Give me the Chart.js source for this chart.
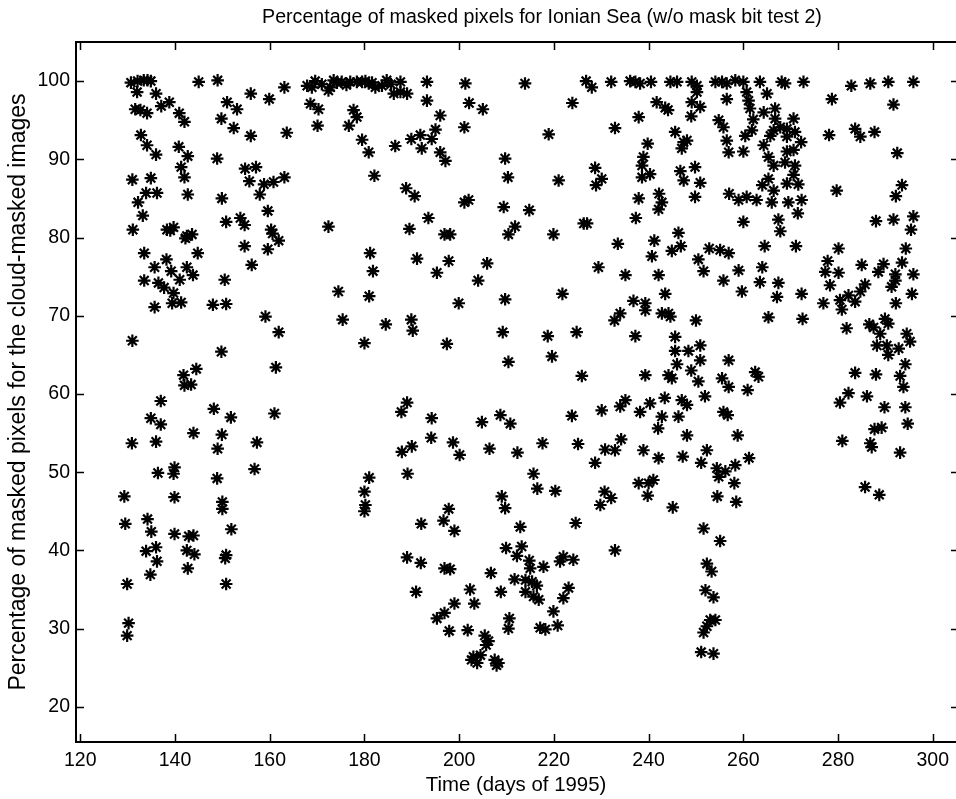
<!DOCTYPE html>
<html>
<head>
<meta charset="utf-8">
<script src="https://cdn.jsdelivr.net/npm/chart.js@4"></script>
<style>
html, body { margin: 0; padding: 0; background: #fff; }
</style>
</head>
<body>
<canvas id="maskChart" width="956" height="799"></canvas>
<script>
// texts
const chartTitle = 'Percentage of masked pixels for Ionian Sea (w/o mask bit test 2)';
const xTitle = 'Time (days of 1995)';
const yTitle = 'Percentage of masked pixels for the cloud-masked images';

// tick labels
const xTicks = [120, 140, 160, 180, 200, 220, 240, 260, 280, 300];
const yTicks = [20, 30, 40, 50, 60, 70, 80, 90, 100];

// [day, percent], split by period
const pts129_164 = [
  [130.7,99.8],[132.1,100.0],[133.4,100.1],[134.2,100.1],[134.9,100.0],[132.0,98.6],[136.0,98.4],
  [145.0,99.9],[149.0,100.1],[156.0,98.4],[159.9,97.7],[163.1,99.2],
  [151.0,97.3],[153.1,96.4],[149.8,95.2],[152.4,94.0],[156.0,93.0],[163.6,93.4],
  [131.6,96.4],[132.7,96.3],[134.1,95.9],[137.1,96.8],[138.8,97.3],[140.9,95.9],[142.0,94.8],
  [132.8,93.1],[134.1,91.8],[136.0,90.6],[140.8,91.6],[142.7,90.4],[148.9,90.1],
  [141.3,89.0],[142.0,87.7],[154.8,88.8],[157.1,89.0],[155.7,87.2],[158.8,86.8],[160.8,87.1],[163.1,87.7],
  [131.0,87.4],[134.9,87.6],[133.9,85.7],[136.2,85.7],[132.2,84.5],[142.7,85.5],[149.9,85.0],[157.9,85.5],
  [133.2,82.8],[159.6,83.4],[131.1,81.0],[150.8,82.0],[153.8,82.5],[154.7,81.6],[138.3,81.0],[139.7,81.3],
  [139.0,80.9],[142.2,79.9],[143.6,80.4],[142.5,80.2],[160.3,81.0],[160.6,80.5],[161.9,79.6],[159.6,78.5],
  [133.5,78.0],[138.2,77.2],[144.8,78.0],[135.7,76.2],[139.2,75.7],[142.5,76.2],[154.7,78.9],[156.2,76.5],
  [143.8,75.2],[150.5,74.6],[133.5,74.5],[136.5,74.2],[137.7,73.6],[139.7,72.9],[141.0,74.6],[135.7,71.1],
  [139.4,71.6],[141.3,71.7],[148.0,71.4],[150.8,71.5],[159.1,69.9],[161.9,67.9],[131.0,66.8],[149.8,65.4],
  [144.5,63.2],[141.8,62.4],[142.0,61.1],[143.4,61.2],[137.0,59.1],[134.9,56.9],[137.0,56.1],[148.2,58.1],
  [151.8,57.0],[143.9,55.0],[149.9,54.8],[130.9,53.7],[136.0,53.9],[149.0,53.0],[157.3,53.8],[161.0,57.5],
  [161.3,63.4],[156.8,50.4],[136.4,49.9],[139.9,50.6],[139.7,49.8],[148.9,49.2],[129.3,46.9],[139.9,46.8],
  [150.0,46.2],[150.0,45.3],
  [129.5,43.4],[134.2,44.0],[135.0,42.4],[136.0,40.4],[133.9,39.9],[136.2,38.6],[134.8,36.9],[129.9,35.7],
  [139.9,42.1],[142.9,41.8],[143.9,41.9],[142.5,40.0],[144.1,39.5],[142.7,37.7],[151.9,42.7],[150.8,39.4],
  [150.6,39.0],[150.8,35.7],[130.2,30.7],[129.9,29.1]
];

const pts167_211 = [
  [167.9,99.4],[169.6,100.0],[168.9,99.2],[172.4,98.8],[173.5,100.1],[172.8,99.2],[175.2,99.9],[177.0,99.9],
  [178.4,99.9],[179.5,99.9],[180.9,99.7],[182.3,99.2],[183.7,99.4],[184.7,100.1],[187.6,99.9],[186.2,98.4],
  [187.6,98.6],[189.0,98.4],[171.0,99.6],[174.2,99.8],[176.2,99.5],[180.2,100.0],[181.6,99.8],[185.6,99.6],
  [193.2,99.9],[193.2,97.5],[201.3,99.7],[202.1,97.2],[205.0,96.4],
  [168.6,97.1],[170.3,96.4],[170.1,94.3],[177.7,96.3],[178.4,95.4],[176.7,94.3],[179.5,92.5],[180.9,90.9],
  [186.5,91.7],[189.9,92.6],[191.8,93.1],[194.2,92.6],[195.0,93.8],[196.0,95.6],[192.1,91.4],[196.0,90.9],
  [197.1,89.8],[201.1,94.1],
  [182.1,87.9],[188.8,86.3],[190.6,85.3],[201.1,84.5],[202.0,84.8],[209.4,83.9],[209.7,90.1],[210.3,87.7],
  [172.4,81.4],[189.5,81.1],[193.5,82.5],[196.9,80.4],[198.1,80.4],[210.4,80.4],
  [181.2,78.0],[191.1,77.3],[197.8,77.0],[205.9,76.7],[181.8,75.7],[195.3,75.5],
  [204.0,74.5],[174.5,73.1],[181.0,72.5],[175.4,69.5],[184.5,68.9],[189.9,69.5],[190.2,68.1],[180.0,66.5],
  [197.4,66.4],[199.9,71.6],[209.7,72.1],[209.2,67.9],[210.4,64.1],[189.0,58.9],[187.8,57.7],[194.2,56.9],
  [194.1,54.4],[198.7,53.8],[200.1,52.2],[204.8,56.4],[208.7,57.3],[210.8,56.2],[206.4,53.0],[187.9,52.6],
  [190.0,53.3],[189.1,49.8],[181.0,49.3],[180.0,47.5],[180.2,45.8],[180.0,45.0],[197.8,45.3],[209.0,46.9],
  [209.7,45.4],
  [192.0,43.4],[196.7,43.8],[199.0,42.5],[189.0,39.1],[191.9,38.4],[196.9,37.7],[198.1,37.6],[190.9,34.7],
  [202.3,35.0],[203.2,33.2],[199.0,33.2],[196.9,32.0],[195.3,31.3],[197.9,29.7],[201.8,29.8],[205.4,29.1],
  [205.7,27.9],[203.0,26.4],[203.8,25.6],[207.5,26.0],[208.3,25.6],[206.7,37.1],[208.8,34.7],[209.9,40.3],
  [210.6,31.3],[210.4,30.0],[204.5,26.6],[206.2,28.4],[207.9,25.3],[202.6,26.0]
];

const pts211_257 = [
  [213.9,99.7],[226.8,100.0],[228.0,99.2],[232.1,99.9],[236.1,100.0],[237.2,99.9],[238.2,99.7],[240.5,99.9],
  [244.6,99.9],[246.0,99.9],[249.1,99.9],[250.2,99.4],[254.1,99.9],[255.5,99.9],[256.5,99.7],
  [250.2,98.6],[249.1,97.3],[250.9,96.7],[249.0,95.5],[256.5,97.7],[241.7,97.3],[243.5,96.6],[244.1,96.3],
  [237.9,95.4],[223.9,97.2],[232.9,94.0],[218.9,93.2],[245.6,93.5],[247.4,92.2],[247.0,91.4],[248.1,92.4],
  [254.8,95.0],[255.8,94.1],[256.5,92.4],[256.9,90.9],
  [239.8,92.0],[238.9,90.3],[238.6,89.2],[238.6,87.7],[240.3,88.1],[246.7,88.5],[249.8,89.0],[247.4,87.3],
  [250.9,87.0],[249.8,85.2],[257.0,85.6],[237.9,85.0],[242.2,85.6],[242.8,84.5],[242.1,83.6],[237.3,82.5],
  [228.7,88.9],[230.1,87.5],[228.9,86.7],[221.0,87.3],
  [211.8,81.4],[214.8,83.5],[219.9,80.4],[226.3,81.8],[227.0,81.8],
  [246.3,80.6],[241.2,79.6],[233.5,79.2],[240.7,77.6],[244.9,78.3],[246.8,78.9],[252.8,78.6],[255.1,78.4],
  [256.9,78.0],[250.5,77.2],[251.6,75.7],[229.4,76.2],[235.1,75.2],[242.1,75.2],
  [255.8,74.5],[221.8,72.8],[236.8,71.9],[239.3,71.6],[239.3,70.7],[243.5,72.8],[234.0,70.3],[232.8,69.4],
  [242.8,70.3],[244.2,70.3],[244.6,69.9],[250.0,69.4],[218.7,67.4],[224.8,67.9],[237.2,67.4],[219.6,64.8],
  [225.9,62.3],[245.6,67.3],[245.6,65.5],[248.4,65.5],[250.9,66.2],[250.9,64.3],[246.0,63.8],[249.0,63.0],
  [239.3,62.4],[244.2,62.4],[244.9,62.0],[250.5,61.6],[251.9,59.7],[255.5,62.0],[256.9,60.9],[256.9,64.3],
  [235.1,59.2],[234.0,58.4],[230.1,57.9],[223.8,57.2],[238.2,57.7],[240.3,58.8],[243.4,59.5],[247.0,59.2],
  [248.1,58.6],[242.8,57.1],[246.3,57.1],[242.0,55.6],[248.1,54.7],[255.8,57.7],[256.7,57.3],[217.6,53.7],
  [212.3,52.5],[225.1,53.6],[230.8,52.9],[232.9,52.8],[234.2,54.2],[228.7,51.2],[238.9,52.8],[242.1,51.8],
  [247.2,52.0],[252.3,52.8],[251.1,51.2],[254.4,50.5],[254.8,49.4],[256.2,50.1],[215.7,49.8],[216.5,47.9],
  [220.3,47.6],[230.7,47.5],[232.1,46.7],[229.8,45.8],[237.9,48.6],[240.0,48.6],[241.0,49.0],[239.8,47.0],
  [245.1,45.5],[254.5,46.9],
  [212.9,43.0],[224.6,43.5],[213.2,40.5],[212.2,39.3],[214.8,38.7],[215.0,37.7],[217.8,37.9],[221.3,38.6],
  [222.0,39.2],[224.1,38.8],[232.9,40.0],[211.7,36.3],[214.0,36.2],[215.4,36.0],[216.4,35.5],[214.0,34.7],
  [215.7,34.1],[216.8,33.7],[223.1,35.2],[222.0,33.9],[219.9,32.2],[217.1,30.1],[218.2,29.9],[220.8,30.4],
  [251.6,42.8],[255.1,41.2],[252.3,38.3],[253.3,37.3],[252.0,34.9],[253.7,34.0],[253.0,31.1],[254.1,31.1],
  [252.3,30.3],[251.6,29.5],[251.1,27.0],[253.7,26.8]
];

const pts256_296 = [
  [258.3,100.1],[260.0,99.9],[263.5,99.9],[268.1,99.9],[268.8,99.7],[272.7,99.9],[282.8,99.4],[286.8,99.7],
  [290.6,99.9],[295.9,99.9],
  [260.7,98.6],[261.1,97.5],[265.0,98.4],[261.4,96.5],[264.3,96.0],[266.7,96.5],[262.1,95.1],[261.8,93.7],
  [266.7,95.2],[267.8,94.1],[270.6,95.2],[266.4,93.7],[269.2,93.9],[270.9,93.5],
  [260.4,93.0],[265.7,93.0],[269.2,92.9],[272.2,92.2],[260.0,91.0],[264.3,91.8],[265.3,90.3],[266.4,89.2],
  [268.8,89.6],[269.2,91.0],[270.6,91.2],[270.9,89.2],[270.6,88.0],
  [265.3,87.5],[264.0,86.7],[266.4,86.0],[269.2,86.9],[271.6,86.8],
  [259.0,84.8],[260.7,85.2],[262.8,84.8],[266.0,84.5],[269.5,84.5],[272.3,84.8],[271.5,83.1],[260.0,82.0],
  [267.4,82.3],[267.8,80.8],[264.5,78.9],[271.1,78.9],[259.0,75.8],[264.0,76.2],
  [278.7,97.7],[291.7,97.0],[278.1,93.1],[283.6,93.9],[284.7,92.9],[287.7,93.5],[292.5,90.8],
  [279.7,86.0],[293.5,86.7],[292.2,85.3],[288.0,82.1],[291.7,82.3],[295.9,82.7],[295.4,81.0],
  [280.1,78.6],[277.8,77.0],[294.3,78.6],[293.5,76.8],[285.0,76.5],[289.6,76.6],[277.3,75.6],[280.1,75.5],
  [288.5,75.6],[292.1,75.3],[295.9,75.3],
  [263.5,74.3],[267.4,74.2],[259.7,73.1],[267.1,72.4],[272.3,72.8],[276.9,71.6],[278.3,73.9],[280.4,72.0],
  [280.8,70.8],[282.2,72.6],[283.6,71.8],[284.7,73.1],[285.7,74.0],[291.3,73.7],[292.1,74.5],[295.6,72.8],
  [292.2,71.6],[265.3,69.8],[272.5,69.6],[281.8,68.4],[286.6,68.9],[287.5,68.5],[289.9,69.6],[290.6,69.0],
  [288.9,67.7],[288.2,66.2],[290.3,66.2],[292.8,65.8],[290.6,65.0],[294.5,67.7],[295.2,66.7],[294.2,63.8],
  [293.1,62.3],[293.8,60.9],[262.5,62.8],[263.2,62.2],[260.9,60.5],[283.6,62.7],[288.0,62.5],[282.2,60.1],
  [280.4,58.9],[286.1,59.7],[289.8,58.3],[294.2,58.3],[294.7,56.2],[287.7,55.5],[289.2,55.7],[258.8,54.7],
  [280.9,54.0],[286.8,53.7],[287.1,53.2],[293.1,52.5],[261.2,51.8],[258.3,50.9],[258.1,48.6],[258.5,46.2],
  [285.7,48.1],[288.7,47.1]
];

const allPoints = [...pts129_164, ...pts167_211, ...pts211_257, ...pts256_296]
  .map(p => ({ x: p[0], y: p[1] }));

const fontFamily = '"Liberation Sans", Arial, Helvetica, sans-serif';

// matlab style box (right edge runs off the page), inward ticks and the title
const frameTicks = {
  id: 'frameTicks',
  afterDraw(chart) {
    const { ctx, chartArea: a } = chart;
    const x = chart.scales.x, y = chart.scales.y;
    ctx.save();
    ctx.strokeStyle = '#000';
    ctx.lineWidth = 2;
    ctx.beginPath();
    ctx.moveTo(a.right + 2, a.top);
    ctx.lineTo(a.left, a.top);
    ctx.lineTo(a.left, a.bottom);
    ctx.lineTo(a.right + 2, a.bottom);
    ctx.stroke();
    ctx.lineWidth = 1.5;
    ctx.beginPath();
    xTicks.forEach(v => {
      const px = Math.round(x.getPixelForValue(v)) + 0.5;
      ctx.moveTo(px, a.bottom); ctx.lineTo(px, a.bottom - 8);
      ctx.moveTo(px, a.top); ctx.lineTo(px, a.top + 8);
    });
    yTicks.forEach(v => {
      const py = Math.round(y.getPixelForValue(v)) + 0.5;
      ctx.moveTo(a.left, py); ctx.lineTo(a.left + 8, py);
      ctx.moveTo(a.right, py); ctx.lineTo(a.right - 5, py);
    });
    ctx.stroke();
    ctx.fillStyle = '#000';
    ctx.font = '19.6px ' + fontFamily;
    ctx.textAlign = 'center';
    ctx.textBaseline = 'middle';
    ctx.fillText(chartTitle, 542, 18);
    ctx.restore();
  }
};

new Chart(document.getElementById('maskChart'), {
  type: 'scatter',
  data: {
    datasets: [{
      data: allPoints,
      pointStyle: 'star',
      pointRadius: 6.3,
      pointHoverRadius: 6.3,
      borderColor: '#000',
      backgroundColor: '#000',
      pointBorderWidth: 2.2
    }]
  },
  options: {
    responsive: false,
    animation: false,
    layout: { autoPadding: false, padding: { top: 42, right: 0, bottom: 0, left: 0 } },
    plugins: { legend: { display: false }, tooltip: { enabled: false } },
    scales: {
      x: {
        type: 'linear',
        min: 119.1,
        max: 304.9,
        afterBuildTicks: s => { s.ticks = xTicks.map(v => ({ value: v })); },
        afterFit: s => { s.height = 57; s.paddingLeft = 0; s.paddingRight = 0; },
        grid: { display: false, drawTicks: false },
        border: { display: false },
        ticks: { color: '#000', padding: 7, maxRotation: 0, autoSkip: false, font: { family: fontFamily, size: 19.5 } },
        title: { display: true, text: xTitle, color: '#000', padding: { top: 0, bottom: 1 }, font: { family: fontFamily, size: 20.4 } }
      },
      y: {
        type: 'linear',
        min: 15.5,
        max: 105,
        afterBuildTicks: s => { s.ticks = yTicks.map(v => ({ value: v })); },
        afterFit: s => { s.width = 76; s.paddingTop = 0; s.paddingBottom = 0; },
        grid: { display: false, drawTicks: false },
        border: { display: false },
        ticks: { color: '#000', padding: 6, font: { family: fontFamily, size: 19.5 } },
        title: { display: true, text: yTitle, color: '#000', padding: { top: 5, bottom: 0 }, font: { family: fontFamily, size: 23 } }
      }
    }
  },
  plugins: [frameTicks]
});
</script>
</body>
</html>
